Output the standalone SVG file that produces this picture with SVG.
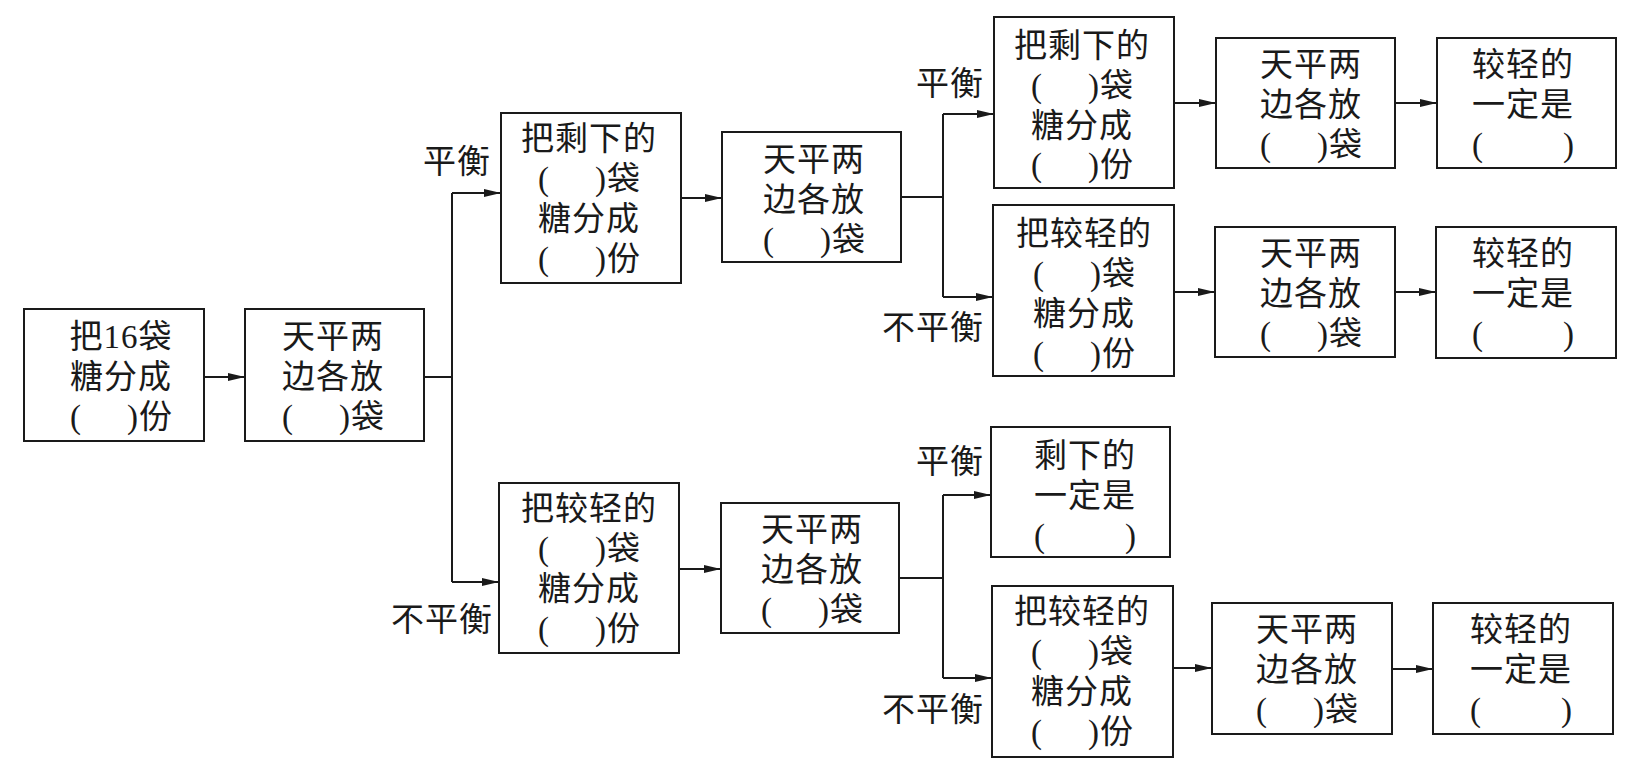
<svg xmlns="http://www.w3.org/2000/svg" width="1646" height="773" viewBox="0 0 1646 773">
<defs>
<marker id="arr" markerWidth="17" markerHeight="8" refX="17" refY="4" orient="auto" markerUnits="userSpaceOnUse"><path d="M0,0 L17,4 L0,8 z" fill="#1a1a1a"/></marker>
<style>
.box{fill:#fff;stroke:#1a1a1a;stroke-width:2}
.c{fill:none;stroke:#1a1a1a;stroke-width:2}
.a{fill:none;stroke:#1a1a1a;stroke-width:2;marker-end:url(#arr)}
text{font-family:'Liberation Serif','Noto Sans CJK SC',serif;font-size:33px;letter-spacing:1px;fill:#1a1a1a;dominant-baseline:central}
.m{text-anchor:middle}
.l{text-anchor:start}
.r{text-anchor:end}
</style>
</defs>
<rect width="1646" height="773" fill="#fff"/>
<g id="connectors">
<path class="a" d="M204,377 H245"/>
<path class="c" d="M424,377 H452 M452,193 V582"/>
<path class="a" d="M452,193 H501"/>
<path class="a" d="M452,582 H499"/>
<path class="a" d="M681,198 H722"/>
<path class="c" d="M901,197 H943 M943,114 V297"/>
<path class="a" d="M943,114 H994"/>
<path class="a" d="M943,297 H993"/>
<path class="a" d="M1174,103 H1216"/>
<path class="a" d="M1395,103 H1437"/>
<path class="a" d="M1174,292 H1215"/>
<path class="a" d="M1395,292 H1436"/>
<path class="a" d="M679,569 H721"/>
<path class="c" d="M899,578 H943 M943,495 V678"/>
<path class="a" d="M943,495 H991"/>
<path class="a" d="M943,678 H992"/>
<path class="a" d="M1173,668 H1212"/>
<path class="a" d="M1392,669 H1433"/>
</g>
<g id="labels">
<text class="r" x="491" y="162">平衡</text>
<text class="r" x="493" y="620">不平衡</text>
<text class="r" x="984" y="84">平衡</text>
<text class="r" x="984" y="328">不平衡</text>
<text class="r" x="984" y="462">平衡</text>
<text class="r" x="984" y="710">不平衡</text>
</g>
<g id="b1">
<rect class="box" x="24" y="309" width="180" height="132"/>
<text class="m" x="121" y="337">把16袋</text>
<text class="m" x="121" y="377">糖分成</text>
<text class="l" x="70" y="417">(</text><text class="r" x="173" y="417">)份</text>
</g>
<g id="b2">
<rect class="box" x="245" y="309" width="179" height="132"/>
<text class="m" x="333" y="337">天平两</text>
<text class="m" x="333" y="377">边各放</text>
<text class="l" x="282" y="417">(</text><text class="r" x="385" y="417">)袋</text>
</g>
<g id="b3">
<rect class="box" x="501" y="113" width="180" height="170"/>
<text class="m" x="589" y="139">把剩下的</text>
<text class="l" x="538" y="179">(</text><text class="r" x="641" y="179">)袋</text>
<text class="m" x="589" y="219">糖分成</text>
<text class="l" x="538" y="259">(</text><text class="r" x="641" y="259">)份</text>
</g>
<g id="b4">
<rect class="box" x="722" y="132" width="179" height="130"/>
<text class="m" x="814" y="160">天平两</text>
<text class="m" x="814" y="200">边各放</text>
<text class="l" x="763" y="240">(</text><text class="r" x="866" y="240">)袋</text>
</g>
<g id="b5">
<rect class="box" x="994" y="17" width="180" height="171"/>
<text class="m" x="1082" y="46">把剩下的</text>
<text class="l" x="1031" y="86">(</text><text class="r" x="1134" y="86">)袋</text>
<text class="m" x="1082" y="126">糖分成</text>
<text class="l" x="1031" y="165">(</text><text class="r" x="1134" y="165">)份</text>
</g>
<g id="b6">
<rect class="box" x="1216" y="38" width="179" height="130"/>
<text class="m" x="1311" y="65">天平两</text>
<text class="m" x="1311" y="105">边各放</text>
<text class="l" x="1260" y="145">(</text><text class="r" x="1363" y="145">)袋</text>
</g>
<g id="b7">
<rect class="box" x="1437" y="38" width="179" height="130"/>
<text class="m" x="1523" y="65">较轻的</text>
<text class="m" x="1523" y="105">一定是</text>
<text class="l" x="1472" y="145">(</text><text class="r" x="1575" y="145">)</text>
</g>
<g id="b8">
<rect class="box" x="993" y="205" width="181" height="171"/>
<text class="m" x="1084" y="234">把较轻的</text>
<text class="l" x="1033" y="274">(</text><text class="r" x="1136" y="274">)袋</text>
<text class="m" x="1084" y="314">糖分成</text>
<text class="l" x="1033" y="354">(</text><text class="r" x="1136" y="354">)份</text>
</g>
<g id="b9">
<rect class="box" x="1215" y="227" width="180" height="130"/>
<text class="m" x="1311" y="254">天平两</text>
<text class="m" x="1311" y="294">边各放</text>
<text class="l" x="1260" y="334">(</text><text class="r" x="1363" y="334">)袋</text>
</g>
<g id="b10">
<rect class="box" x="1436" y="227" width="180" height="131"/>
<text class="m" x="1523" y="254">较轻的</text>
<text class="m" x="1523" y="294">一定是</text>
<text class="l" x="1472" y="334">(</text><text class="r" x="1575" y="334">)</text>
</g>
<g id="b11">
<rect class="box" x="499" y="483" width="180" height="170"/>
<text class="m" x="589" y="509">把较轻的</text>
<text class="l" x="538" y="549">(</text><text class="r" x="641" y="549">)袋</text>
<text class="m" x="589" y="589">糖分成</text>
<text class="l" x="538" y="629">(</text><text class="r" x="641" y="629">)份</text>
</g>
<g id="b12">
<rect class="box" x="721" y="503" width="178" height="130"/>
<text class="m" x="812" y="530">天平两</text>
<text class="m" x="812" y="570">边各放</text>
<text class="l" x="761" y="610">(</text><text class="r" x="864" y="610">)袋</text>
</g>
<g id="b13">
<rect class="box" x="991" y="427" width="179" height="130"/>
<text class="m" x="1085" y="456">剩下的</text>
<text class="m" x="1085" y="496">一定是</text>
<text class="l" x="1034" y="536">(</text><text class="r" x="1137" y="536">)</text>
</g>
<g id="b14">
<rect class="box" x="992" y="586" width="181" height="171"/>
<text class="m" x="1082" y="612">把较轻的</text>
<text class="l" x="1031" y="652">(</text><text class="r" x="1134" y="652">)袋</text>
<text class="m" x="1082" y="692">糖分成</text>
<text class="l" x="1031" y="732">(</text><text class="r" x="1134" y="732">)份</text>
</g>
<g id="b15">
<rect class="box" x="1212" y="603" width="180" height="131"/>
<text class="m" x="1307" y="630">天平两</text>
<text class="m" x="1307" y="670">边各放</text>
<text class="l" x="1256" y="710">(</text><text class="r" x="1359" y="710">)袋</text>
</g>
<g id="b16">
<rect class="box" x="1433" y="603" width="180" height="131"/>
<text class="m" x="1521" y="630">较轻的</text>
<text class="m" x="1521" y="670">一定是</text>
<text class="l" x="1470" y="710">(</text><text class="r" x="1573" y="710">)</text>
</g>
</svg>
